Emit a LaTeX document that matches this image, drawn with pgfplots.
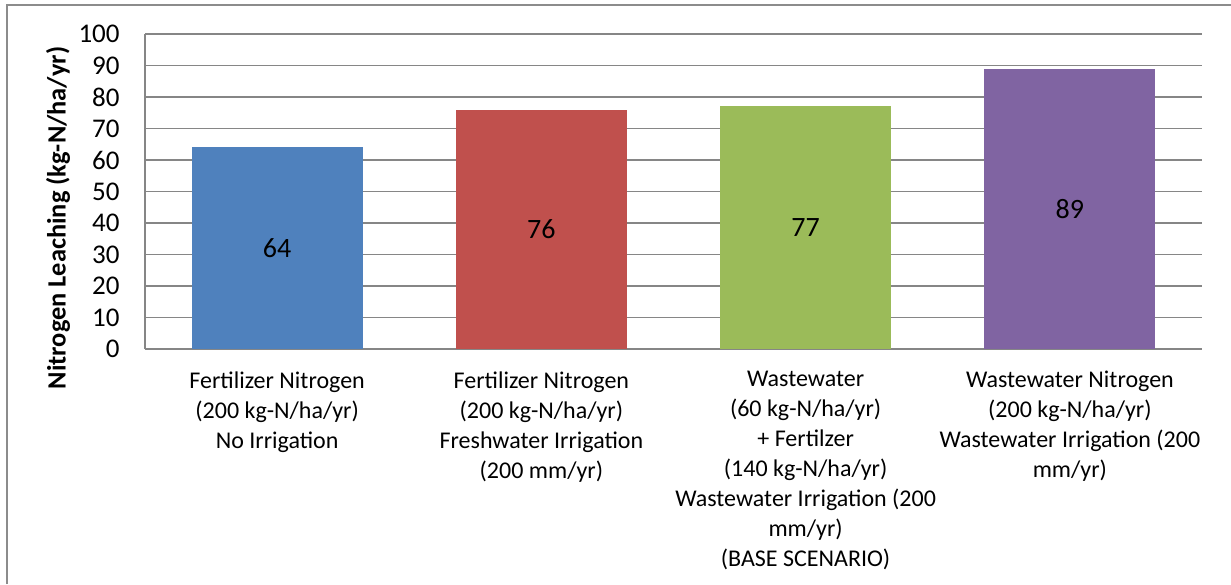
\documentclass[border=0pt]{standalone}
\usepackage{fontspec}
\setmainfont{Carlito}
\usepackage{pgfplots}
\pgfplotsset{compat=1.18}
\definecolor{xblue}{HTML}{4F81BD}
\definecolor{xred}{HTML}{C0504D}
\definecolor{xgreen}{HTML}{9BBB59}
\definecolor{xpurple}{HTML}{8064A2}
\definecolor{xgrid}{HTML}{868686}
\definecolor{xframe}{HTML}{8C8C8C}
\begin{document}
\begin{tikzpicture}
\useasboundingbox (0,0) rectangle (615.5pt,292pt);
\draw[xframe, line width=0.9pt] (3.5pt,0pt) -- (3.5pt,289.5pt) -- (615.5pt,289.5pt);
\begin{axis}[
  at={(72.5pt,117.5pt)}, anchor=south west,
  scale only axis, width=528.5pt, height=157.5pt,
  xmin=-0.5, xmax=3.5, ymin=0, ymax=100,
  ytick={0,10,...,100},
  xtick={0,1,2,3},
  xticklabels={
    {Fertilizer Nitrogen\\(200 kg-N/ha/yr)\\No Irrigation},
    {Fertilizer Nitrogen\\(200 kg-N/ha/yr)\\Freshwater Irrigation\\(200 mm/yr)},
    {Wastewater\\(60 kg-N/ha/yr)\\+ Fertilzer\\(140 kg-N/ha/yr)\\Wastewater Irrigation (200\\mm/yr)\\(BASE SCENARIO)},
    {Wastewater Nitrogen\\(200 kg-N/ha/yr)\\Wastewater Irrigation (200\\mm/yr)}},
  axis x line*=bottom, axis y line*=left,
  axis line style={draw=xgrid, line width=0.75pt, -},
  major tick length=0pt,
  ymajorgrids, grid style={draw=xgrid, line width=0.75pt},
  /pgf/number format/assume math mode=true,
  yticklabel style={font=\fontsize{13.5}{15}\selectfont, anchor=east, inner sep=0pt, xshift=-12.5pt},
  xticklabel style={font=\fontsize{12}{15}\selectfont, align=center, anchor=north, inner sep=0pt, yshift=-11pt},
  ylabel={Nitrogen Leaching (kg-N/ha/yr)},
  ylabel style={font=\fontsize{13.2}{15}\selectfont\bfseries, at={(axis description cs:-0.0823,0.416)}, anchor=center},
  ybar, bar width=85.5pt,
  visualization depends on=y \as \rawy,
  nodes near coords,
  every node near coord/.append style={font=\fontsize{14}{16}\selectfont, anchor=center, yshift=-0.7875pt*\rawy, color=black},
  point meta=explicit symbolic,
]
\addplot[fill=xblue, draw=none, bar shift=0pt] coordinates {(0,64) [64]};
\addplot[fill=xred, draw=none, bar shift=0pt] coordinates {(1,76) [76]};
\addplot[fill=xgreen, draw=none, bar shift=0pt] coordinates {(2,77) [77]};
\addplot[fill=xpurple, draw=none, bar shift=0pt] coordinates {(3,89) [89]};
\end{axis}
\end{tikzpicture}
\end{document}
